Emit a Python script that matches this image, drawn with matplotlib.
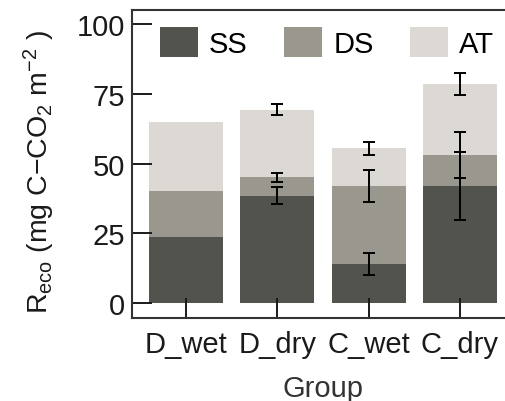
import numpy as np
import matplotlib
matplotlib.use("Agg")
import matplotlib.pyplot as plt

plt.rcParams['font.family'] = ['Liberation Sans', 'DejaVu Sans']
plt.rcParams['mathtext.fontset'] = 'custom'
plt.rcParams['mathtext.rm'] = 'Liberation Sans'
plt.rcParams['mathtext.it'] = 'Liberation Sans'

# data
groups = ["D_wet", "D_dry", "C_wet", "C_dry"]
ss = [23.7, 38.5, 13.9, 41.9]
ds = [16.4, 6.6, 28.0, 11.2]
at = [24.7, 24.3, 13.6, 25.4]
ss_err = [np.nan, 3.1, 3.9, 12.1]
ds_err = [np.nan, 1.7, 5.8, 8.2]
at_err = [np.nan, 2.0, 2.3, 3.9]

colors = {"SS": "#52534d", "DS": "#9a978f", "AT": "#dcd8d4"}

fig = plt.figure(figsize=(5.05, 4.02), dpi=100)
ax = fig.add_axes([132/505, 83/402, 382/505, 308/402])

x = np.arange(len(groups))
ss = np.array(ss); ds = np.array(ds); at = np.array(at)
w = 0.81
ax.bar(x, ss, w, color=colors["SS"], label="SS")
ax.bar(x, ds, w, bottom=ss, color=colors["DS"], label="DS")
ax.bar(x, at, w, bottom=ss + ds, color=colors["AT"], label="AT")

ekw = dict(fmt="none", ecolor="black", elinewidth=1.4, capsize=4.3, capthick=1.4)
ax.errorbar(x, ss, yerr=ss_err, **ekw)
ax.errorbar(x, ss + ds, yerr=ds_err, **ekw)
ax.errorbar(x, ss + ds + at, yerr=at_err, **ekw)

ax.set_xlim(-0.592, 3.592)
ax.set_ylim(-5.4, 105.1)
ax.set_yticks([0, 25, 50, 75, 100])
ax.set_xticks(x)
ax.set_xticklabels(groups)
ax.tick_params(direction="in", length=14.5, width=1.4, labelsize=21,
               colors="#1a1a1a")
ax.tick_params(axis="x", pad=9)
ax.tick_params(axis="y", pad=5)
for s in ax.spines.values():
    s.set_linewidth(1.5)
    s.set_color("#333333")

ax.set_xlabel("Group", fontsize=21, color="#333333", labelpad=11)
ax.set_ylabel(r"R$_{\rm eco}$ (mg C$-$CO$_2$ m$^{-2}$ )", fontsize=20.5,
              color="#1a1a1a")
ax.yaxis.set_label_coords(-0.196, 0.476)

ax.legend(loc="upper left", bbox_to_anchor=(0.02, 1.01), ncol=3, frameon=False,
          fontsize=21, handlelength=1.3, handleheight=1.2, handletextpad=0.38,
          columnspacing=1.25, borderaxespad=0.3)

fig.savefig("out.png", dpi=100)
